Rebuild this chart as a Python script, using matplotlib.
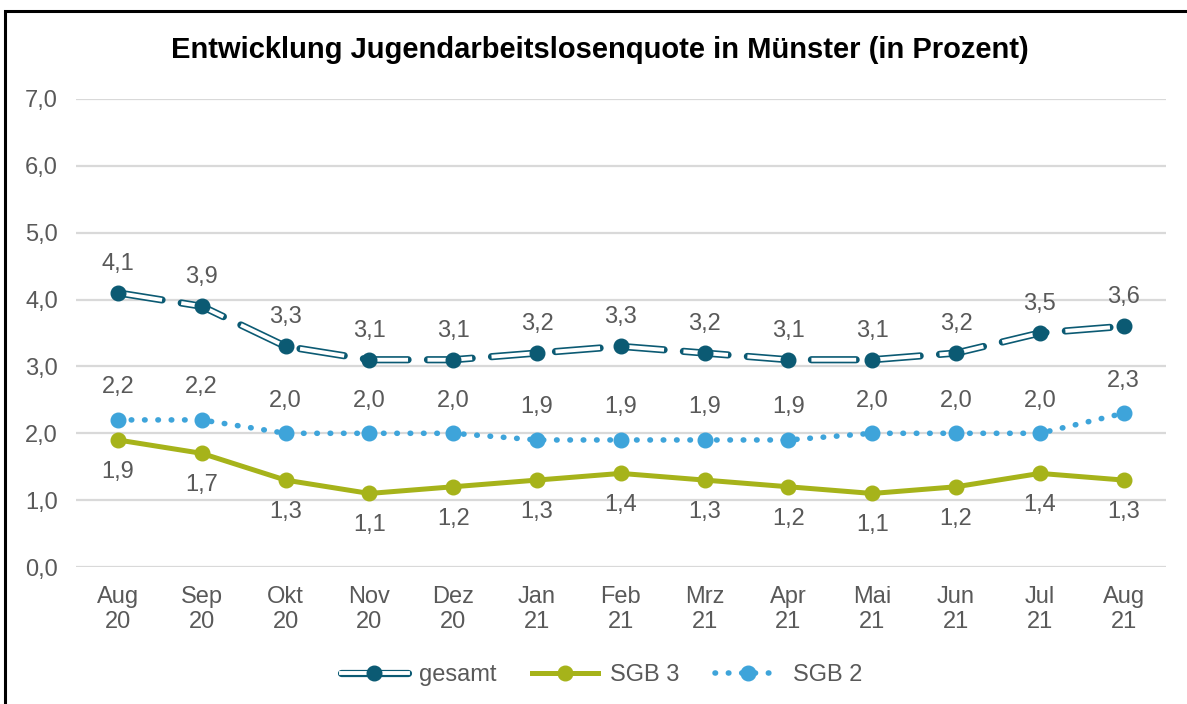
import matplotlib.pyplot as plt
import matplotlib.patheffects as pe
from matplotlib.patches import Rectangle

plt.rcParams['font.family'] = ['Liberation Sans', 'DejaVu Sans']

months = ["Aug\n20", "Sep\n20", "Okt\n20", "Nov\n20", "Dez\n20", "Jan\n21", "Feb\n21",
          "Mrz\n21", "Apr\n21", "Mai\n21", "Jun\n21", "Jul\n21", "Aug\n21"]
gesamt = [4.1, 3.9, 3.3, 3.1, 3.1, 3.2, 3.3, 3.2, 3.1, 3.1, 3.2, 3.5, 3.6]
sgb3 = [1.9, 1.7, 1.3, 1.1, 1.2, 1.3, 1.4, 1.3, 1.2, 1.1, 1.2, 1.4, 1.3]
sgb2 = [2.2, 2.2, 2.0, 2.0, 2.0, 1.9, 1.9, 1.9, 1.9, 2.0, 2.0, 2.0, 2.3]

c_ges = "#0b5a73"
c_sgb3 = "#a6b31a"
c_sgb2 = "#3ea4da"
grey = "#595959"
fs = 17

fig = plt.figure(figsize=(11.87, 7.04), dpi=100)
ax = fig.add_axes([0.064, 0.1946, 0.918, 0.6648])

x = list(range(len(months)))

# hollow dashed double line for "gesamt"
outline = [pe.Stroke(linewidth=5.2, foreground=c_ges, capstyle="round"), pe.Normal()]
ax.plot(x, gesamt, color="white", lw=2.8, dashes=(11.5, 5), zorder=4, path_effects=outline)
ax.plot(x, gesamt, ls="none", marker="o", ms=10.5, color=c_ges, zorder=5)

ax.plot(x, sgb3, color=c_sgb3, lw=3.6, marker="o", ms=10.5, zorder=3)
ax.plot(x, sgb2, color=c_sgb2, lw=4, ls=(0, (0.1, 2.3)), dash_capstyle="round",
        marker="o", ms=10.5, zorder=3)

def fmt(v):
    return f"{v:.1f}".replace(".", ",")

for i in x:
    ax.annotate(fmt(gesamt[i]), (i, gesamt[i]), xytext=(0, 21), textcoords="offset points",
                ha="center", va="center", fontsize=fs, color=grey)
    ax.annotate(fmt(sgb2[i]), (i, sgb2[i]), xytext=(0, 23.5), textcoords="offset points",
                ha="center", va="center", fontsize=fs, color=grey)
    ax.annotate(fmt(sgb3[i]), (i, sgb3[i]), xytext=(0, -23), textcoords="offset points",
                ha="center", va="center", fontsize=fs, color=grey)

ax.set_xlim(-0.5, len(months) - 0.5)
ax.set_ylim(0, 7)
ax.set_yticks(range(8))
ax.set_yticklabels([fmt(v) for v in range(8)], fontsize=fs, color=grey)
ax.set_xticks(x)
ax.set_xticklabels(months, fontsize=fs, color=grey, linespacing=1.15)
ax.tick_params(length=0)
ax.tick_params(axis="x", pad=14)
ax.tick_params(axis="y", pad=13)
ax.grid(axis="y", color="#d9d9d9", lw=1.6)
ax.set_axisbelow(True)
for s in ax.spines.values():
    s.set_visible(False)

fig.text(0.505, 0.929, "Entwicklung Jugendarbeitslosenquote in Münster (in Prozent)",
         ha="center", va="center", fontsize=21, fontweight="bold", color="black")

# legend handles
h1a, = ax.plot([], [], color="white", lw=2.8, path_effects=outline)
h1b, = ax.plot([], [], ls="none", marker="o", ms=10.5, color=c_ges)
h2, = ax.plot([], [], color=c_sgb3, lw=3.6, marker="o", ms=10.5)
h3, = ax.plot([], [], color=c_sgb2, lw=4, ls=(0, (0.1, 2.3)), dash_capstyle="round",
              marker="o", ms=10.5)
fig.legend([(h1a, h1b), h2, h3], ["gesamt", "SGB 3", "SGB 2"], loc="center",
           bbox_to_anchor=(0.507, 0.041), ncol=3, frameon=False, fontsize=fs,
           labelcolor=grey, handlelength=2.8, columnspacing=1.5, handletextpad=0.5)

fig.add_artist(Rectangle((5 / 1187, -0.1), 1.1, 1.1 - 11 / 704, transform=fig.transFigure,
                         fill=False, ec="black", lw=2.2))

fig.savefig("out.png", dpi=100)
